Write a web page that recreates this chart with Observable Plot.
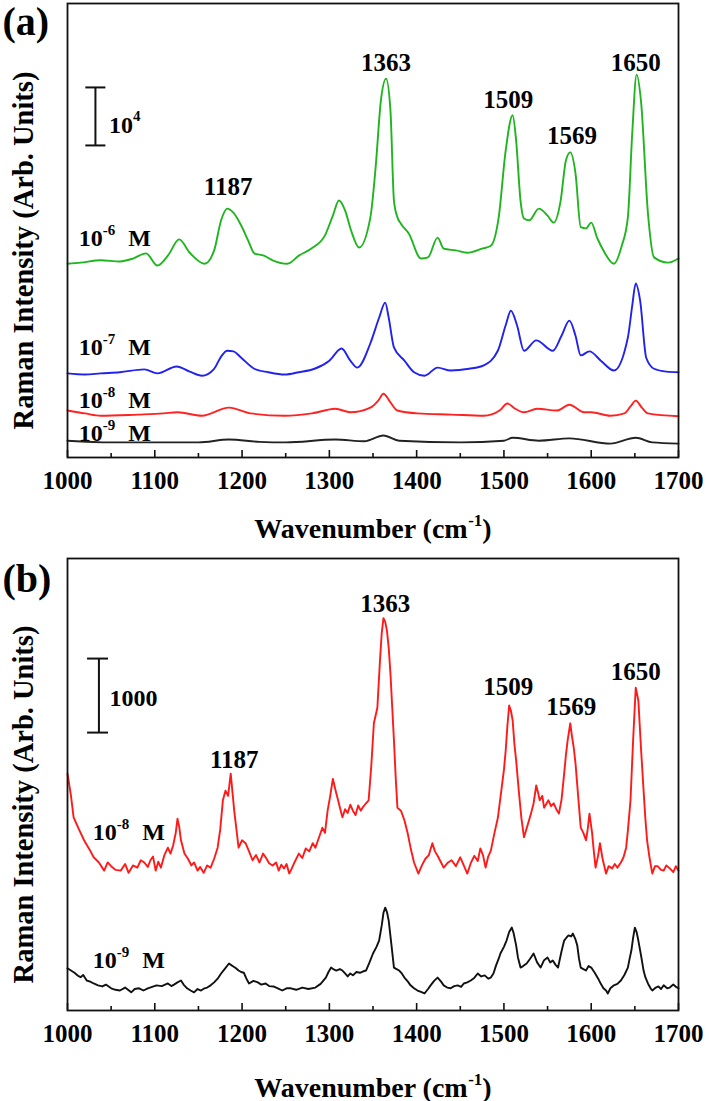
<!DOCTYPE html>
<html><head><meta charset="utf-8">
<script src="https://cdn.jsdelivr.net/npm/d3@7"></script>
<script src="https://cdn.jsdelivr.net/npm/@observablehq/plot@0.6"></script>
<style>body{margin:0;background:#fff}#chart{width:709px;height:1101px}#chart svg{display:block;overflow:visible}</style>
</head><body><div id="chart"></div>
<script>
// ---------- DATA (wavenumber cm^-1, Raman intensity counts, offset as plotted) ----------
const majorTicks = [1000, 1100, 1200, 1300, 1400, 1500, 1600, 1700];
const minorTicks = [1050, 1150, 1250, 1350, 1450, 1550, 1650];

// panel (a)
const a6 = [[1000,33400],[1015,33600],[1038,34000],[1060,33800],[1075,34300],[1090,35200],[1103,33100],[1115,34800],[1128,37600],[1140,35300],[1157,33400],[1168,35700],[1176,40900],[1183,42900],[1190,42200],[1199,40000],[1207,37400],[1214,35200],[1225,34800],[1235,34000],[1252,33400],[1265,34800],[1279,36000],[1295,38300],[1304,41700],[1311,44300],[1318,42600],[1325,39100],[1334,36200],[1347,41400],[1353,50000],[1359,61500],[1365,65300],[1370,59800],[1374,44300],[1378,41400],[1382,40300],[1391,38600],[1405,34300],[1413,34500],[1424,37900],[1431,36000],[1445,35700],[1458,35300],[1475,36000],[1485,36500],[1494,41400],[1502,52900],[1510,59000],[1514,54600],[1519,44300],[1523,41200],[1529,40900],[1540,42900],[1550,41700],[1557,40500],[1565,44300],[1571,51200],[1576,52600],[1582,49000],[1588,39700],[1594,39500],[1600,40500],[1607,37800],[1614,35700],[1626,33400],[1635,36500],[1642,41400],[1647,55900],[1652,66000],[1657,61500],[1665,42100],[1672,34500],[1688,33600],[1700,34300]];
const a7 = [[1000,14500],[1020,14300],[1038,14500],[1060,14700],[1088,15200],[1103,14500],[1125,15700],[1140,14800],[1154,14100],[1168,15300],[1176,17400],[1183,18400],[1190,18300],[1199,17200],[1214,15300],[1230,14700],[1249,14300],[1265,14700],[1283,15300],[1300,16700],[1314,18800],[1324,16700],[1332,15500],[1347,19700],[1357,24100],[1364,26700],[1368,24100],[1374,19000],[1386,16700],[1397,14700],[1409,14100],[1424,15500],[1439,15000],[1460,15300],[1477,15900],[1493,18400],[1502,22800],[1508,25300],[1515,22800],[1523,18400],[1537,20200],[1556,18400],[1566,21000],[1575,23600],[1582,21000],[1588,17600],[1598,18300],[1611,16700],[1626,15000],[1642,20700],[1647,26200],[1651,30000],[1656,27100],[1663,17200],[1672,15300],[1686,14800],[1700,14700]];
const a8 = [[1000,8100],[1020,7600],[1038,7200],[1080,7400],[1110,7600],[1126,7800],[1154,7200],[1185,8600],[1210,7600],[1249,7200],[1280,7600],[1307,8400],[1324,7800],[1347,8600],[1356,9800],[1362,11000],[1370,9500],[1378,8100],[1401,7600],[1440,7400],[1477,7200],[1495,8100],[1504,9300],[1513,8400],[1523,7800],[1538,8400],[1561,8100],[1575,9100],[1592,7800],[1600,7800],[1622,7200],[1638,7600],[1645,8800],[1651,9800],[1658,8600],[1665,7600],[1700,7100]];
const a9 = [[1000,2900],[1050,2600],[1100,2600],[1150,2600],[1185,3100],[1220,2700],[1250,2600],[1307,3100],[1340,2800],[1362,3800],[1380,2900],[1450,2600],[1500,2900],[1510,3400],[1540,2900],[1575,3300],[1622,2400],[1651,3400],[1670,2600],[1700,2400]];

// panel (b)
const b8 = [[1000,3200],[1004,2900],[1007,2610],[1013,2450],[1019,2300],[1025,2180],[1030,2070],[1036,2000],[1042,1890],[1046,2000],[1050,1950],[1055,1900],[1061,1890],[1066,1980],[1070,1860],[1075,1960],[1080,1930],[1084,2030],[1088,2000],[1092,1940],[1095,2030],[1098,2080],[1101,1890],[1104,2010],[1107,1930],[1111,2100],[1115,2200],[1118,2120],[1121,2230],[1124,2400],[1126,2590],[1128,2480],[1130,2300],[1134,2120],[1138,2050],[1142,1960],[1145,2000],[1149,1890],[1152,1940],[1156,1860],[1160,1960],[1164,1930],[1168,2050],[1172,2200],[1175,2450],[1178,2840],[1181,2970],[1184,2900],[1187,3200],[1189,2950],[1191,2700],[1193,2500],[1196,2200],[1200,2300],[1204,2260],[1208,2150],[1212,2030],[1216,2100],[1220,2000],[1224,2120],[1227,2070],[1231,1990],[1235,1960],[1239,2000],[1242,1890],[1245,1970],[1248,1920],[1251,1980],[1254,1850],[1257,1920],[1260,2000],[1265,2120],[1269,2060],[1273,2190],[1277,2150],[1281,2260],[1284,2200],[1287,2300],[1292,2470],[1295,2400],[1298,2700],[1301,2900],[1304,3130],[1307,2980],[1310,2840],[1313,2700],[1315,2610],[1318,2720],[1321,2670],[1324,2780],[1327,2700],[1330,2640],[1333,2770],[1336,2700],[1338,2740],[1342,2800],[1345,2840],[1348,3300],[1351,3880],[1355,4090],[1358,4730],[1360,5100],[1362,5300],[1364,5250],[1366,5130],[1368,4900],[1370,4550],[1372,4100],[1374,3650],[1376,3150],[1378,2740],[1382,2700],[1386,2570],[1390,2380],[1393,2200],[1397,2000],[1402,1850],[1406,1960],[1410,2050],[1414,2100],[1418,2260],[1421,2150],[1424,2090],[1428,2000],[1431,1930],[1436,2000],[1440,2030],[1445,1950],[1450,2070],[1454,1960],[1458,1850],[1462,1990],[1466,2090],[1470,2020],[1473,2190],[1476,2100],[1479,1930],[1482,2080],[1485,2160],[1489,2390],[1493,2600],[1497,2970],[1500,3250],[1502,3510],[1504,3850],[1506,4120],[1508,4050],[1510,3920],[1512,3600],[1514,3380],[1517,2970],[1520,2600],[1523,2340],[1527,2500],[1531,2660],[1534,2800],[1537,3040],[1539,2950],[1541,2840],[1544,2900],[1546,2740],[1549,2800],[1551,2840],[1554,2760],[1557,2800],[1560,2720],[1563,2660],[1566,2850],[1569,3200],[1571,3450],[1573,3650],[1576,3880],[1578,3700],[1580,3550],[1582,3340],[1585,2900],[1588,2470],[1591,2400],[1594,2300],[1596,2450],[1598,2660],[1601,2400],[1603,2150],[1605,1930],[1608,2100],[1610,2260],[1613,2050],[1617,1850],[1620,1950],[1624,1920],[1627,1980],[1630,1930],[1634,2000],[1637,2070],[1640,2200],[1642,2430],[1645,2840],[1648,3650],[1651,4360],[1654,4190],[1657,3550],[1660,2970],[1662,2600],[1664,2300],[1667,2050],[1670,1850],[1673,1950],[1676,1950],[1680,1900],[1683,1890],[1686,1960],[1690,1920],[1694,1870],[1697,1950],[1700,1890]];
const b9 = [[1000,570],[1004,540],[1008,510],[1012,470],[1015,450],[1018,480],[1022,405],[1026,390],[1030,365],[1035,340],[1040,325],[1044,350],[1050,300],[1055,280],[1060,270],[1066,310],[1073,245],[1077,290],[1082,300],[1087,270],[1092,300],[1097,320],[1102,340],[1108,330],[1115,365],[1119,330],[1122,350],[1126,380],[1130,405],[1133,350],[1137,300],[1141,270],[1145,245],[1149,290],[1153,270],[1157,300],[1160,310],[1164,340],[1168,380],[1172,430],[1176,500],[1180,560],[1185,635],[1188,610],[1190,595],[1193,570],[1196,540],[1199,520],[1202,510],[1205,430],[1208,365],[1213,400],[1218,380],[1222,350],[1227,365],[1231,330],[1236,325],[1241,300],[1246,270],[1251,300],[1256,300],[1262,280],[1269,310],[1276,290],[1284,310],[1290,360],[1296,445],[1299,520],[1302,580],[1305,555],[1308,540],[1312,560],[1315,540],[1318,500],[1321,460],[1324,500],[1327,475],[1331,520],[1335,510],[1339,530],[1342,540],[1346,650],[1350,770],[1354,860],[1357,945],[1360,1150],[1362,1320],[1364,1390],[1366,1330],[1368,1215],[1371,900],[1374,580],[1377,560],[1380,540],[1383,500],[1386,445],[1390,390],[1393,340],[1397,300],[1401,270],[1405,250],[1409,230],[1413,290],[1416,340],[1420,400],[1424,445],[1428,390],[1431,340],[1435,310],[1439,300],[1443,330],[1447,340],[1451,320],[1454,365],[1458,380],[1462,405],[1466,440],[1470,500],[1474,460],[1478,475],[1482,430],[1485,445],[1488,500],[1491,610],[1494,700],[1496,770],[1500,860],[1503,945],[1506,1060],[1509,1120],[1511,1050],[1514,880],[1516,720],[1519,580],[1522,600],[1526,635],[1530,700],[1534,770],[1538,650],[1542,580],[1546,680],[1550,715],[1553,650],[1556,675],[1559,620],[1562,580],[1566,800],[1569,945],[1572,990],[1574,1015],[1577,1000],[1579,1040],[1582,960],[1584,880],[1586,700],[1588,580],[1591,560],[1594,540],[1597,600],[1600,580],[1604,510],[1608,430],[1611,360],[1614,300],[1617,270],[1619,230],[1622,300],[1626,340],[1630,360],[1634,405],[1638,480],[1642,580],[1644,700],[1646,810],[1648,980],[1650,1120],[1652,1060],[1654,945],[1657,750],[1660,540],[1662,450],[1665,365],[1668,300],[1670,270],[1674,310],[1677,325],[1680,290],[1683,340],[1687,300],[1690,310],[1694,350],[1697,320],[1700,300]];

// annotations
const peaksA = [{x:1184,y:45200,t:"1187"},{x:1365,y:66700,t:"1363"},{x:1505,y:60300,t:"1509"},{x:1578,y:54100,t:"1569"},{x:1651,y:66700,t:"1650"}];
const peaksB = [{x:1191,y:3270,t:"1187"},{x:1364,y:5380,t:"1363"},{x:1505,y:4260,t:"1509"},{x:1577,y:3990,t:"1569"},{x:1651,y:4460,t:"1650"}];
const concA = [{x:1013,y:36400,base:"10",sup:"-6",tail:"M"},{x:1013,y:17600,base:"10",sup:"-7",tail:"M"},{x:1013,y:8600,base:"10",sup:"-8",tail:"M"},{x:1013,y:2800,base:"10",sup:"-9",tail:"M"}];
const concB = [{x:1029,y:2300,base:"10",sup:"-8",tail:"M"},{x:1029,y:570,base:"10",sup:"-9",tail:"M"}];
const barA = {x:1032, x1:1021, x2:1044, y1:53800, y2:63800, lx:1047.5, ly:55900, base:"10", sup:"4"};
const barB = {x:1036, x1:1023, x2:1047, y1:3755, y2:4755, lx:1048, ly:4120, base:"1000", sup:""};

// ---------- DRAWING ----------
const FONT = "'Liberation Serif','Times New Roman',serif";
const ctx = document.createElement("canvas").getContext("2d");
function tw(s, size){ ctx.font = `bold ${size}px ${FONT}`; return ctx.measureText(s).width; }
const T = {fontFamily: FONT, fontWeight: "bold", fill: "black"};

function supMarks(data, size, supSize, rise, gap){
  const c = {...T, x:"x", y:"y", textAnchor:"start", lineAnchor:"bottom"};
  const out = [Plot.text(data, {...c, text:"base", fontSize:size})];
  for (const d of data) {
    const w0 = tw(d.base, size);
    if (d.sup) out.push(Plot.text([d], {...c, text:"sup", fontSize:supSize, dx:w0, dy:-rise}));
    if (d.tail) out.push(Plot.text([d], {...c, text:"tail", fontSize:size, dx:w0 + tw(d.sup, supSize) + gap}));
  }
  return out;
}

function panel({series, yMax, height, mt, mb, peaks, conc, bar, letter, titleDy, curve}) {
  const xT = ["Wavenumber (cm", "-1", ")"];
  const s1 = 28, s2 = 17;
  const w1 = tw(xT[0], s1), w2 = tw(xT[1], s2), w3 = tw(xT[2], s1);
  const x0 = -(w1 + w2 + w3) / 2;
  const innerH = height - mt - mb;
  const marks = [
    ...series.map(s => Plot.line(s.data, {x: d => d[0], y: d => d[1], stroke: s.color, strokeWidth: 1.9, curve})),
    Plot.frame({stroke: "#111", strokeWidth: 1.8}),
    Plot.tickX(majorTicks, {x: d => d, insetTop: innerH - 7, stroke: "#111", strokeWidth: 1.6}),
    Plot.tickX(minorTicks, {x: d => d, insetTop: innerH - 4, stroke: "#111", strokeWidth: 1.6}),
    Plot.text(majorTicks, {...T, x: d => d, text: d => String(d), frameAnchor: "bottom", dy: 23, lineAnchor: "middle", fontSize: 25}),
    Plot.text([xT[0]], {...T, text: d => d, frameAnchor: "bottom", textAnchor: "start", lineAnchor: "bottom", dx: x0, dy: titleDy, fontSize: s1}),
    Plot.text([xT[1]], {...T, text: d => d, frameAnchor: "bottom", textAnchor: "start", lineAnchor: "bottom", dx: x0 + w1, dy: titleDy - 12, fontSize: s2}),
    Plot.text([xT[2]], {...T, text: d => d, frameAnchor: "bottom", textAnchor: "start", lineAnchor: "bottom", dx: x0 + w1 + w2, dy: titleDy, fontSize: s1}),
    Plot.text(["Raman Intensity (Arb. Units)"], {...T, text: d => d, frameAnchor: "left", textAnchor: "middle", lineAnchor: "middle", rotate: -90, dx: -44, dy: 20, fontSize: 28.5}),
    Plot.text([letter], {...T, text: d => d, frameAnchor: "top-left", textAnchor: "start", lineAnchor: "bottom", dx: -65, dy: letter === "(a)" ? 31 : 33, fontSize: 40, letterSpacing: "1.5px"}),
    Plot.ruleX([bar], {x: "x", y1: "y1", y2: "y2", stroke: "#111", strokeWidth: 2}),
    Plot.ruleY([bar.y1, bar.y2], {y: d => d, x1: bar.x1, x2: bar.x2, stroke: "#111", strokeWidth: 2}),
    ...supMarks([{x: bar.lx, y: bar.ly, base: bar.base, sup: bar.sup}], 24, 15, 12, 0),
    Plot.text(peaks, {...T, x: "x", y: "y", text: "t", lineAnchor: "bottom", fontSize: 25}),
    ...supMarks(conc, 24, 15, 11, 13)
  ];
  return Plot.plot({
    width: 709, height, marginLeft: 67, marginRight: 31, marginTop: mt, marginBottom: mb,
    x: {domain: [1000, 1700], axis: null},
    y: {domain: [0, yMax], axis: null},
    style: {background: "#fff", overflow: "visible"},
    marks
  });
}

const root = document.getElementById("chart");
root.append(panel({
  series: [{data: a6, color: "#1fb51f"}, {data: a7, color: "#2222ee"}, {data: a8, color: "#ff2222"}, {data: a9, color: "#222"}],
  yMax: 78270, height: 550, mt: 3, mb: 93, peaks: peaksA, conc: concA, bar: barA, letter: "(a)", titleDy: 80, curve: "monotone-x"
}));
root.append(panel({
  series: [{data: b8, color: "#ff1a1a"}, {data: b9, color: "#111"}],
  yMax: 6107, height: 551, mt: 8, mb: 91, peaks: peaksB, conc: concB, bar: barB, letter: "(b)", titleDy: 86, curve: "linear"
}));
</script></body></html>
